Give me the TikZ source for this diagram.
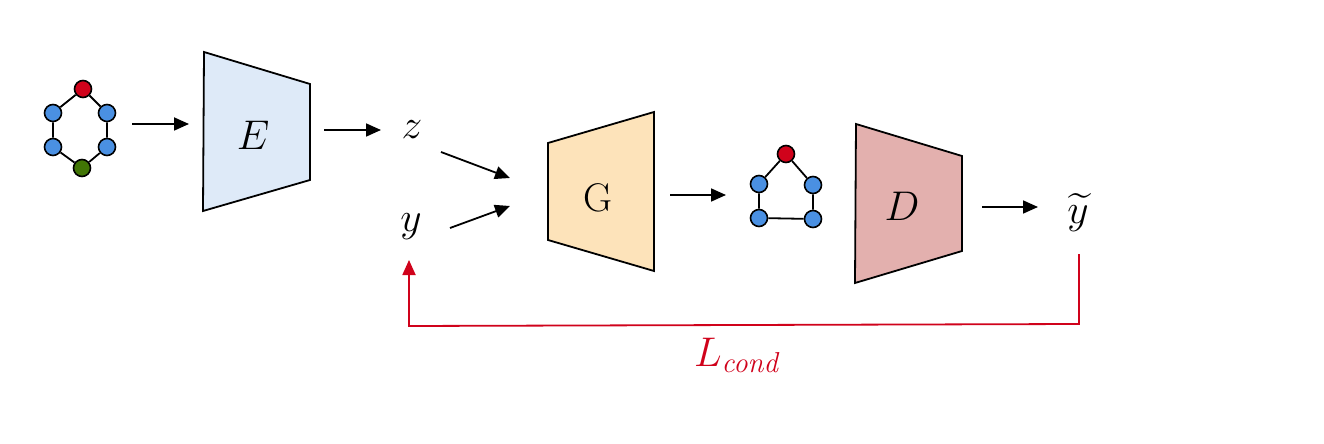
\documentclass[tikz,border=0pt]{standalone}
\usetikzlibrary{arrows.meta}
\usepackage{amsmath}
\definecolor{gred}{HTML}{D0021B}
\definecolor{gblue}{HTML}{4A90E2}
\definecolor{ggreen}{HTML}{417505}
\definecolor{efill}{HTML}{DEEAF8}
\definecolor{gfill}{HTML}{FDE3BA}
\definecolor{dfill}{HTML}{E3B0AE}
\begin{document}
\begin{tikzpicture}[x=0.5pt,y=-0.5pt,
  vtx/.style={circle,draw=black,line width=0.8pt,minimum size=8.5pt,inner sep=0pt},
  edge/.style={line width=0.9pt},
  trap/.style={draw=black,line width=0.9pt},
  arr/.style={line width=0.9pt,-{Triangle[length=7.5pt,width=6.5pt]}},
  lbl/.style={inner sep=0pt,font=\fontsize{20}{22}\selectfont},
  larrow/.style={draw=gred,line width=0.9pt,-{Triangle[length=7.5pt,width=6.5pt]}}]
\useasboundingbox (0,0) rectangle (1324,444);
% input graph
\node[vtx,fill=gred] (a1) at (83,89) {};
\node[vtx,fill=gblue] (a2) at (53,113) {};
\node[vtx,fill=gblue] (a3) at (107,113) {};
\node[vtx,fill=gblue] (a4) at (53,147) {};
\node[vtx,fill=gblue] (a5) at (107,147) {};
\node[vtx,fill=ggreen] (a6) at (82,168) {};
\draw[edge] (a1)--(a2) (a1)--(a3) (a2)--(a4) (a3)--(a5) (a4)--(a6) (a6)--(a5);
% E
\draw[trap,fill=efill] (204,52) -- (310,84) -- (310,180) -- (203,211) -- cycle;
\node[lbl] (E) at (253,135) {$E$};
% G
\draw[trap,fill=gfill] (548,143) -- (654,112) -- (654,271) -- (548,240) -- cycle;
\node[lbl] (G) at (598,198) {G};
% D
\draw[trap,fill=dfill] (856,124) -- (962,156) -- (962,251) -- (855,283) -- cycle;
\node[lbl] (D) at (902,206) {$D$};
% generated graph
\node[vtx,fill=gred] (b1) at (786,154) {};
\node[vtx,fill=gblue] (b2) at (759,184) {};
\node[vtx,fill=gblue] (b3) at (813,185) {};
\node[vtx,fill=gblue] (b4) at (759,218) {};
\node[vtx,fill=gblue] (b5) at (813,219) {};
\draw[edge] (b1)--(b2) (b1)--(b3) (b2)--(b4) (b3)--(b5) (b4)--(b5);
% labels
\node[lbl] (z) at (412,130) {$z$};
\node[lbl] (y) at (411,227) {$y$};
\node[lbl] (yt) at (1078,213) {$\widetilde{y}$};
\node[lbl,text=gred] (L) at (738,355) {$L_{\mathit{cond}}$};
% arrow coordinates
\coordinate (s1) at (132,124); \coordinate (t1) at (189,124);
\coordinate (s2) at (324,130); \coordinate (t2) at (381,130);
\coordinate (s3) at (441,152); \coordinate (t3) at (510,178);
\coordinate (s4) at (450,228); \coordinate (t4) at (510,206);
\coordinate (s5) at (670,195); \coordinate (t5) at (726,195);
\coordinate (s6) at (982,207); \coordinate (t6) at (1038,207);
\coordinate (r1) at (1079,254); \coordinate (r2) at (1079,324);
\coordinate (r3) at (409,326); \coordinate (r4) at (409,260);
\draw[arr] (s1) -- (t1);
\draw[arr] (s2) -- (t2);
\draw[arr] (s3) -- (t3);
\draw[arr] (s4) -- (t4);
\draw[arr] (s5) -- (t5);
\draw[arr] (s6) -- (t6);
\draw[larrow] (r1) -- (r2) -- (r3) -- (r4);
\end{tikzpicture}
\end{document}
